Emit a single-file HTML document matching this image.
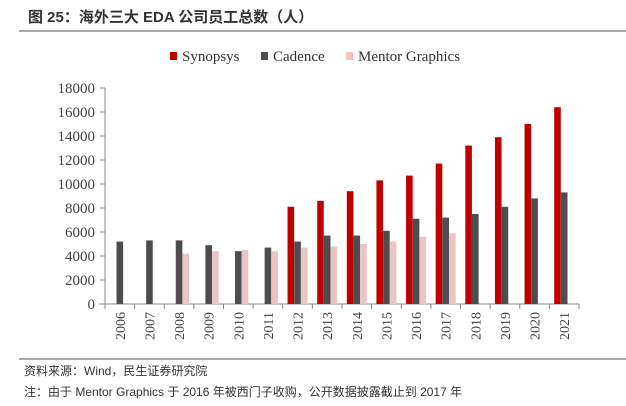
<!DOCTYPE html>
<html><head><meta charset="utf-8"><style>
body{margin:0;background:#fff;}
svg text{font-family:"Liberation Serif",serif;}
.cjk{font-family:"Liberation Sans","Noto Sans CJK SC",sans-serif;}
</style></head><body>
<svg width="626" height="401" viewBox="0 0 626 401">
<text class="cjk" x="28" y="22" font-size="15" font-weight="bold" fill="#333">图 25：海外三大 EDA 公司员工总数（人）</text>
<line x1="19" y1="31" x2="626" y2="31" stroke="#555" stroke-width="1"/>
<g>
<g><rect x="170" y="52" width="7" height="8" fill="#c00000"/><text x="182" y="61" font-size="15" fill="#333">Synopsys</text></g>
<g><rect x="261" y="52" width="7" height="8" fill="#4d4d4f"/><text x="273" y="61" font-size="15" fill="#333">Cadence</text></g>
<g><rect x="346" y="52" width="7" height="8" fill="#ebc4c4"/><text x="358" y="61" font-size="15" fill="#333">Mentor Graphics</text></g>
</g>
<g id="plot"></g>
<line x1="19" y1="359" x2="626" y2="359" stroke="#555" stroke-width="1"/>
<text class="cjk" x="24" y="375" font-size="12" fill="#333">资料来源：Wind，民生证券研究院</text>
<text class="cjk" x="24" y="396" font-size="12" fill="#333">注：由于 Mentor Graphics 于 2016 年被西门子收购，公开数据披露截止到 2017 年</text>
</svg>
<script>
const years=["2006","2007","2008","2009","2010","2011","2012","2013","2014","2015","2016","2017","2018","2019","2020","2021"];
const synopsys=[null,null,null,null,null,null,8100,8600,9400,10300,10700,11700,13200,13900,15000,16400];
const cadence=[5200,5300,5300,4900,4400,4700,5200,5700,5700,6100,7100,7200,7500,8100,8800,9300];
const mentor=[null,null,4200,4400,4500,4400,4700,4800,5000,5200,5600,5900,null,null,null,null];
const yTicks=[0,2000,4000,6000,8000,10000,12000,14000,16000,18000];
const NS="http://www.w3.org/2000/svg";
const g=document.getElementById('plot');
const x0=105,x1=579,y0=304,y1=88,ymax=18000;
const cw=(x1-x0)/years.length;
const yS=v=>y0-(v/ymax)*(y0-y1);
const xC=i=>x0+cw*(i+0.5);
function mk(t,a){const e=document.createElementNS(NS,t);for(const k in a)e.setAttribute(k,a[k]);g.appendChild(e);return e;}
let ax=mk('line',{x1:x0,y1:y1,x2:x0,y2:y0,stroke:'#888'});


let bx=mk('line',{x1:x0-6,y1:y0,x2:x1,y2:y0,stroke:'#888'});


yTicks.forEach(v=>{
 let t=mk('line',{x1:x0-5,y1:yS(v),x2:x0,y2:yS(v),stroke:'#888'});
 
 
 let l=mk('text',{x:x0-10,y:yS(v)+5,'font-size':15,fill:'#444','text-anchor':'end'});
 l.textContent=v;
 
 
});
for(let i=0;i<=years.length;i++){
 let t=mk('line',{x1:x0+cw*i,y1:y0,x2:x0+cw*i,y2:y0+5,stroke:'#888'});
 
 
}
years.forEach((y,i)=>{
 let l=mk('text',{x:0,y:0,'font-size':14,fill:'#444','text-anchor':'end',transform:`translate(${xC(i)+5},${y0+8}) rotate(-90)`});
 l.textContent=y;
 
 
});
const series=[[synopsys,'#c00000',-10,'synopsys'],[cadence,'#4d4d4f',-3.3,'cadence'],[mentor,'#ebc4c4',3.4,'mentor']];
series.forEach(([arr,c,off,n])=>{
 arr.forEach((v,i)=>{
  if(v==null)return;
  let r=mk('rect',{x:xC(i)+off,y:yS(v),width:6.6,height:y0-yS(v),fill:c});
  
  
 });
});
</script>
</body></html>
